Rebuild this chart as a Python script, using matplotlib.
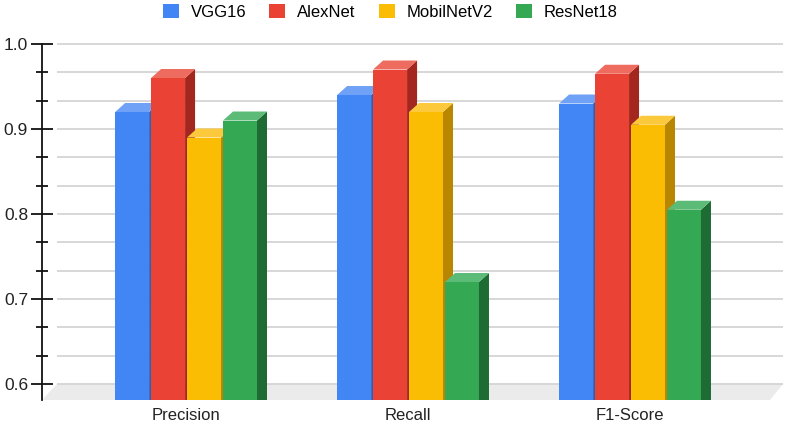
import matplotlib
matplotlib.use("Agg")
import matplotlib.pyplot as plt
from matplotlib.patches import Polygon, Patch
import numpy as np

categories = ["Precision", "Recall", "F1-Score"]
models = ["VGG16", "AlexNet", "MobilNetV2", "ResNet18"]
vgg16 = [0.92, 0.94, 0.93]
alexnet = [0.96, 0.97, 0.965]
mobilnetv2 = [0.89, 0.92, 0.905]
resnet18 = [0.91, 0.72, 0.805]
yticks = [0.6, 0.7, 0.8, 0.9, 1.0]

series = [vgg16, alexnet, mobilnetv2, resnet18]
front = ["#4285F4", "#EA4335", "#FBBC04", "#34A853"]
side = ["#2C5FB8", "#A3271E", "#B88600", "#1E6B33"]
top = ["#6FA2F7", "#EE6B60", "#FCC93C", "#5DBB78"]

plt.rcParams["font.family"] = ["Liberation Sans", "DejaVu Sans"]

W, H = 787, 424
AX_L, AX_R, AX_T, AX_B = 42, 783, 44, 400
fig = plt.figure(figsize=(W / 100, H / 100), dpi=100)
ax = fig.add_axes([AX_L / W, (H - AX_B) / H, (AX_R - AX_L) / W, (AX_B - AX_T) / H])
xmin, xmax = -0.649, 2.689
ymin, ymax = 0.5812, 1.0
ax.set_xlim(xmin, xmax)
ax.set_ylim(ymin, ymax)

# pixel -> data scale, used for the fake 3D depth
px_x = (xmax - xmin) / (AX_R - AX_L)
px_y = (ymax - ymin) / (AX_B - AX_T)

# floor and back-wall gridlines
floor_dx = 15 * px_x
ax.add_patch(Polygon([(xmin, ymin), (xmin + floor_dx, 0.6), (xmax, 0.6),
                      (xmax - 13 * px_x, ymin)],
                     closed=True, facecolor="#ebebeb", edgecolor="none", zorder=0))
grid = [0.6 + k * 0.1 / 3 for k in range(13)]
for g in grid:
    ax.plot([xmin + floor_dx, xmax], [g, g], color="#d4d4d4", lw=1.3,
            zorder=0.5, clip_on=False, solid_capstyle="butt")

# bars with a side and a top face
width = 0.153
step = 0.162
dx, dy = 10 * px_x, 9 * px_y
x = np.arange(len(categories))
for i, vals in enumerate(series):
    xs = x + (i - 1.5) * step
    z = 3 + i
    ax.bar(xs, np.array(vals) - ymin, bottom=ymin, width=width, color=front[i],
           zorder=z, clip_on=False)
    for xc, v in zip(xs, vals):
        l, r = xc - width / 2, xc + width / 2
        ax.add_patch(Polygon([(r, ymin), (r, v), (r + dx, v + dy), (r + dx, ymin)],
                             closed=True, facecolor=side[i], edgecolor="none",
                             zorder=z, clip_on=False))
        ax.add_patch(Polygon([(l, v), (r, v), (r + dx, v + dy), (l + dx, v + dy)],
                             closed=True, facecolor=top[i], edgecolor="none",
                             zorder=z, clip_on=False))

# axes styling
for s in ["top", "right", "bottom"]:
    ax.spines[s].set_visible(False)
ax.spines["left"].set_linewidth(1.3)
ax.spines["left"].set_color("#111111")
ax.spines["left"].set_zorder(10)

ax.set_yticks(yticks)
ax.set_yticklabels([f"{t:.1f}" for t in yticks])
ax.set_yticks([g for g in grid if round(g * 10, 6) % 1 != 0], minor=True)
ax.tick_params(axis="y", which="major", direction="inout", length=16, width=1.3,
               labelsize=12.5, pad=2, colors="#111111", labelcolor="#222222")
ax.tick_params(axis="y", which="minor", direction="inout", length=8, width=1.3,
               colors="#111111")

ax.set_xticks(x)
ax.set_xticklabels(categories)
ax.tick_params(axis="x", length=0, pad=6, labelsize=12, labelcolor="#222222")

handles = [Patch(facecolor=c, edgecolor="none") for c in front]
fig.legend(handles, models, loc="upper center", bbox_to_anchor=(0.496, 1.027),
           ncol=4, frameon=False, fontsize=12, handlelength=0.96,
           handleheight=0.96, columnspacing=1.38, handletextpad=0.72)

fig.savefig("out.png", dpi=100)
